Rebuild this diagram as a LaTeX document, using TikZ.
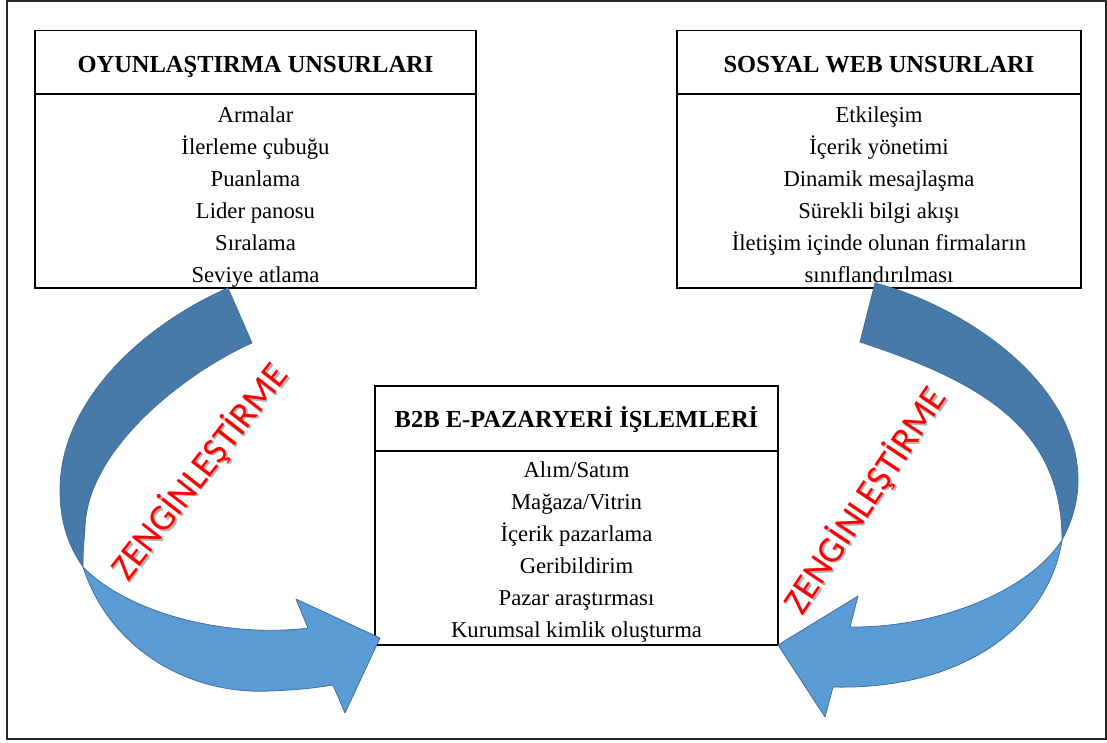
\documentclass[tikz,border=0pt]{standalone}
\usepackage{fontspec}
\setmainfont{Liberation Serif}
\newfontfamily\zengfont{Carlito}
\definecolor{ribbondark}{RGB}{71,122,168}
\definecolor{ribbonlight}{RGB}{91,155,213}
\definecolor{ribbonedge}{RGB}{65,113,156}
\definecolor{zengred}{RGB}{255,0,0}
\begin{document}
\begin{tikzpicture}[x=1pt,y=-1pt,
  frame/.style={draw=black!85,line width=2pt},
  boxpart/.style={draw=black,line width=1.6pt,inner sep=0pt},
  headtext/.style={anchor=base,inner sep=0pt,font=\fontsize{24.5}{29}\selectfont\bfseries},
  itemtext/.style={anchor=base,inner sep=0pt,font=\fontsize{22.7}{27}\selectfont},
  darkband/.style={fill=ribbondark,draw=ribbonedge,line width=0.8pt,line join=round},
  lightband/.style={fill=ribbonlight,draw=ribbonedge,line width=0.8pt,line join=round},
  zeng/.style={anchor=base,inner sep=0pt,text=zengred,font=\zengfont\fontsize{37}{40}\selectfont},
  zengshadow/.style={anchor=base,inner sep=0pt,text=black,opacity=0.3,font=\zengfont\fontsize{37}{40}\selectfont}]
\useasboundingbox (0,0) rectangle (1107,742);

% outer frame
\draw[frame] (7,1) rectangle (1106,739);

% gamification box
\node[boxpart,minimum width=441pt,minimum height=63.5pt] (oyHead) at (255.5,62.25) {};
\node[boxpart,minimum width=441pt,minimum height=194pt] (oyBody) at (255.5,191) {};
\node[headtext] (oyTitle) at (255.5,72) {OYUNLAŞTIRMA UNSURLARI};
\foreach \t [count=\i] in {Armalar,İlerleme çubuğu,Puanlama,Lider panosu,Sıralama,Seviye atlama}
  \node[itemtext] (oy\i) at (255.5,{122+32.1*(\i-1)}) {\t};

% social web box
\node[boxpart,minimum width=404pt,minimum height=63.5pt] (swHead) at (879,62.25) {};
\node[boxpart,minimum width=404pt,minimum height=194pt] (swBody) at (879,191) {};
\node[headtext] (swTitle) at (879,72) {SOSYAL WEB UNSURLARI};
\foreach \t [count=\i] in {Etkileşim,İçerik yönetimi,Dinamik mesajlaşma,Sürekli bilgi akışı,İletişim içinde olunan firmaların,sınıflandırılması}
  \node[itemtext] (sw\i) at (879,{122+32*(\i-1)}) {\t};

% marketplace box
\node[boxpart,minimum width=403pt,minimum height=65pt] (mpHead) at (576.5,418.5) {};
\node[boxpart,minimum width=403pt,minimum height=194pt] (mpBody) at (576.5,548) {};
\node[headtext] (mpTitle) at (576.5,427) {B2B E-PAZARYERİ İŞLEMLERİ};
\foreach \t [count=\i] in {Alım/Satım,Mağaza/Vitrin,İçerik pazarlama,Geribildirim,Pazar araştırması,Kurumsal kimlik oluşturma}
  \node[itemtext] (mp\i) at (576.5,{477+32*(\i-1)}) {\t};

% left curved ribbon arrow: back face, then front face with head
\path[darkband] (228,288) .. controls (145,324) and (60,400) .. (60,490)
  .. controls (60,525) and (70,548) .. (83,567)
  .. controls (83,550) and (84,540) .. (85,530)
  .. controls (85,450) and (186,372) .. (252,343) -- cycle;
\path[lightband] (83,567) .. controls (110,650) and (190,695) .. (270,691)
  .. controls (295,690) and (315,688) .. (333,685)
  -- (345,713) -- (380,638) -- (296,599) -- (308,628)
  .. controls (230,638) and (130,615) .. (83,567) -- cycle;

% right curved ribbon arrow
\path[darkband] (875,283) .. controls (960,305) and (1078,380) .. (1078,480)
  .. controls (1078,505) and (1070,525) .. (1062,540)
  .. controls (1062,430) and (985,383) .. (860,342) -- cycle;
\path[lightband] (1062,540) .. controls (1050,620) and (970,690) .. (833,687)
  -- (825,717) -- (778,645) -- (858,596) -- (850,627)
  .. controls (940,628) and (1030,590) .. (1062,540) -- cycle;

% enrichment labels with soft shadow
\node[zengshadow,rotate=52] (zlShadow) at (210.5,480.5) {ZENGİNLEŞTİRME};
\node[zeng,rotate=52] (zl) at (209,479) {ZENGİNLEŞTİRME};
\node[zengshadow,rotate=56.3] (zrShadow) at (876.5,508.5) {ZENGİNLEŞTİRME};
\node[zeng,rotate=56.3] (zr) at (875,507) {ZENGİNLEŞTİRME};
\end{tikzpicture}
\end{document}
